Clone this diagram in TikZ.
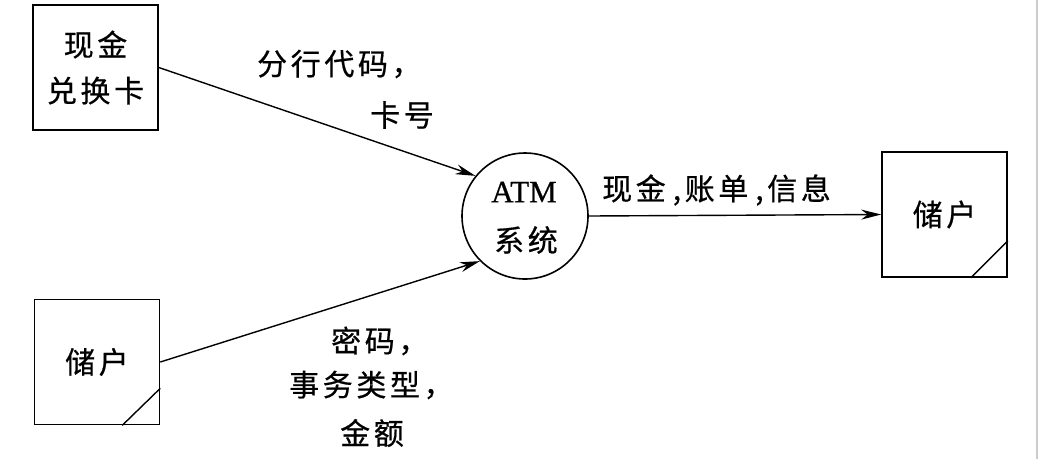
\documentclass[tikz,border=0pt]{standalone}
\usepackage{fontspec}
\newfontfamily\cjk[LetterSpace=12,FakeBold=0.6]{Noto Sans CJK SC}
\newfontfamily\lat[FakeBold=0.6]{Liberation Serif}
\usetikzlibrary{arrows.meta}
\begin{document}
\begin{tikzpicture}[x=1pt,y=-1pt,
  ent/.style={draw,line width=1.6pt,minimum width=125pt,minimum height=125pt,inner sep=0pt,font=\cjk\fontsize{30}{36}\selectfont,align=center},
  proc/.style={draw,circle,line width=1.6pt,minimum size=126pt,inner sep=0pt},
  lbl/.style={inner sep=0pt,font=\cjk\fontsize{30}{36}\selectfont},
  flow/.style={line width=1.4pt,-{Stealth[length=20pt,width=10pt]}},
  corner/.style={line width=1.4pt}]
\useasboundingbox (0,0) rectangle (1039,459);
\draw[gray!40,line width=2pt] (1037,0) -- (1037,459);
\node[ent] (card) at (95.5,67.5) {现金\\[10pt]兑换卡};
\node[ent] (user1) at (97,362) {储户};
\node[ent] (user2) at (944.5,214.5) {储户};
\draw[corner] ([xshift=-38pt]user1.south east) -- ([yshift=37pt]user1.south east);
\draw[corner] ([xshift=-37pt]user2.south east) -- ([yshift=37pt]user2.south east);
\node[proc] (atm) at (525,216) {};
\node[inner sep=0pt,font=\lat\fontsize{31}{36}\selectfont] (atmA) at (524,192) {ATM};
\node[lbl] (atmB) at (526,240) {系统};
\draw[flow] (card.east) -- (atm.141);
\draw[flow] (user1.east) -- (atm.225);
\draw[flow] (atm.east) -- (user2.west);
\node[lbl,anchor=west] (l1) at (257,64) {分行代码，};
\node[lbl] (l2) at (402,115) {卡号};
\node[lbl,anchor=west] (l3) at (602,190) {现金\hspace{7pt},账单\hspace{7pt},信息};
\node[lbl,anchor=west] (l4) at (331,341) {密码，};
\node[lbl,anchor=west] (l5) at (289,385) {事务类型，};
\node[lbl] (l6) at (372,433) {金额};
\end{tikzpicture}
\end{document}
